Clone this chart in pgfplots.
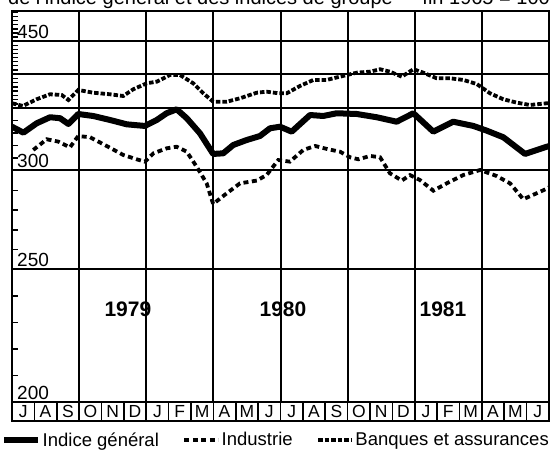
\documentclass[border=0pt]{standalone}
\usepackage{pgfplots}
\usepackage{pgfplotstable}
\pgfplotsset{compat=1.18}
\usepackage{fontspec}
\setmainfont{Liberation Sans}

\pgfplotstableread{
m v
0.00 335.2
0.51 330.4
1.10 337.9
1.70 342.8
2.15 342.0
2.52 337.4
2.96 345.4
3.63 343.8
4.38 340.6
5.13 337.1
5.94 335.8
6.47 340.6
6.91 346.0
7.36 349.2
7.81 342.0
8.40 329.9
8.99 313.3
9.44 313.8
9.89 320.5
10.49 324.5
11.08 327.7
11.53 333.9
11.98 335.2
12.50 331.2
13.32 344.6
13.91 343.8
14.51 346.0
15.41 345.4
16.30 342.8
17.19 339.2
17.94 346.0
18.83 331.2
19.72 339.2
20.62 335.8
21.22 332.0
21.96 326.7
22.93 313.3
23.90 319.1
24.00 319.6
}\general

\pgfplotstableread{
m v
0.95 316.5
1.55 325.1
2.07 323.2
2.59 318.6
2.96 327.7
3.49 326.7
4.23 319.7
4.97 312.5
5.57 309.0
5.94 307.1
6.32 313.8
6.91 317.8
7.36 319.1
7.81 315.1
8.25 303.1
8.70 293.5
8.99 283.1
9.60 288.5
10.19 293.5
10.94 294.9
11.38 297.7
11.90 308.4
12.42 307.1
13.02 316.5
13.55 319.7
14.14 317.0
14.66 315.1
15.11 310.6
15.48 309.0
16.01 311.7
16.45 310.6
16.89 298.6
17.42 294.9
17.79 297.7
18.23 295.2
18.83 289.8
19.43 293.5
20.17 297.7
20.92 300.4
21.66 297.2
22.26 293.5
22.85 285.5
23.45 288.5
23.90 290.8
24.00 291.5
}\industrie

\pgfplotstableread{
m v
0.00 357.3
0.49 353.4
1.10 363.1
1.70 370.4
2.22 369.4
2.52 362.1
2.96 376.7
3.63 372.7
4.38 370.4
4.97 367.9
5.42 377.7
6.02 386.4
6.47 388.8
7.06 398.5
7.51 398.5
8.10 386.4
8.55 371.9
8.99 359.6
9.60 359.6
10.19 364.6
10.94 372.7
11.38 374.2
11.90 371.9
12.28 371.9
12.87 382.5
13.47 391.3
14.06 391.3
14.66 396.1
15.41 402.0
16.00 403.5
16.45 407.2
16.89 403.5
17.42 396.1
17.94 407.2
18.38 402.0
18.98 393.7
19.58 393.7
20.17 391.3
20.77 385.4
21.36 371.9
21.96 363.1
22.56 358.2
23.15 354.8
23.90 357.3
24.00 357.3
}\banques

\begin{document}
\begin{tikzpicture}
\begin{axis}[
  name=main,
  at={(12pt,48pt)}, anchor=south west,
  scale only axis, width=537pt, height=391pt,
  xmin=0, xmax=24, ymin=200, ymax=496,
  y coord trafo/.code={\pgfmathparse{2.65*min(#1-200,50)+1.98*max(0,min(#1-250,50))+1.244*max(0,min(#1-300,50))+0.686*max(0,min(#1-350,50))+0.656*max(0,#1-400)}},
  axis line style={line width=2pt},
  xtick={0,3,...,24}, xticklabels={,,,,,,,,},
  ytick={200,250,300,350,400,450},
  yticklabels={200,250,300,,,450},
  yticklabel style={anchor=south west, inner sep=0pt, xshift=5pt, yshift=2.5pt, font=\fontsize{19}{19}\selectfont},
  xmajorgrids, ymajorgrids,
  major grid style={black, line width=2pt},
  major tick length=0pt,
  minor ytick={210,220,230,240,260,270,280,290,310,320,330,340,356.25,362.5,368.75,375,381.25,387.5,393.75,406.25,412.5,418.75,425,431.25,437.5,443.75,456.25,462.5,468.75,475,481.25,487.5,493.75},
  minor tick length=6pt, tick align=inside, ytick pos=left, xtick pos=bottom,
  minor tick style={line width=1.4pt, black},
  legend columns=3,
  legend cell align=left,
  legend image code/.code={\draw[#1] (0pt,0pt) -- (34pt,0pt);},
  legend style={at={(-0.0205,-0.0972)}, anchor=west, draw=none, fill=none,
    inner sep=0pt, nodes={inner sep=1.5pt},
    font=\fontsize{18.5}{19}\selectfont,
    /tikz/every even column/.append style={column sep=22pt}},
]
\addplot[black, line width=6pt, line join=round] table[x=m, y=v] {\general};
\addlegendentry{Indice général}
\addplot[black, line width=3.8pt, dash pattern=on 5pt off 3.5pt] table[x=m, y=v] {\industrie};
\addlegendentry{Industrie}
\addplot[black, line width=3.8pt, dash pattern=on 4.5pt off 2pt] table[x=m, y=v] {\banques};
\addlegendentry{Banques et assurances}
\node[font=\bfseries\fontsize{21}{21}\selectfont] at (axis cs:5.18,235) {1979};
\node[font=\bfseries\fontsize{21}{21}\selectfont] at (axis cs:12.11,235) {1980};
\node[font=\bfseries\fontsize{21}{21}\selectfont] at (axis cs:19.26,235) {1981};
\end{axis}
\begin{axis}[
  name=months,
  at={(12pt,48pt)}, anchor=north west,
  scale only axis, width=537pt, height=19pt,
  xmin=0, xmax=24, ymin=0, ymax=1,
  axis line style={line width=2pt},
  xtick={0.5,1.5,...,23.5},
  xticklabels={J,A,S,O,N,D,J,F,M,A,M,J,J,A,S,O,N,D,J,F,M,A,M,J},
  xticklabel style={anchor=base, yshift=3.5pt, inner sep=0pt, font=\fontsize{17.5}{18}\selectfont},
  ytick=\empty,
  major tick length=0pt, minor tick length=0pt,
  minor xtick={1,2,...,23},
  xminorgrids,
  minor grid style={black, line width=1.6pt},
]
\end{axis}
\node[anchor=base west, inner sep=0pt, font=\fontsize{20}{20}\selectfont] at (8pt,445pt) {de l’indice général et des indices de groupe};
\node[anchor=base east, inner sep=0pt, font=\fontsize{20}{20}\selectfont] at (550pt,445pt) {fin 1965 = 100};
\pgfresetboundingbox
\useasboundingbox (0,0) rectangle (553pt,450pt);
\end{tikzpicture}
\end{document}
